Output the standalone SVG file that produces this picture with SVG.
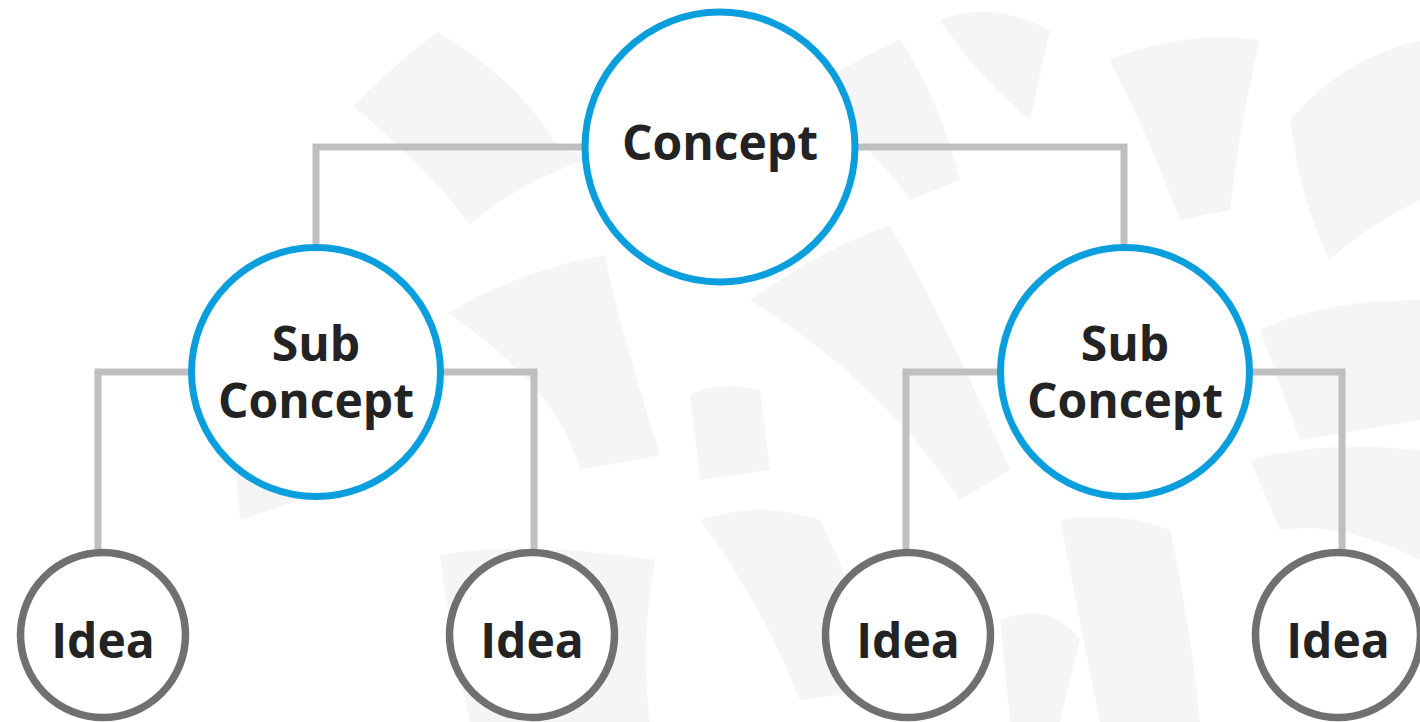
<svg xmlns="http://www.w3.org/2000/svg" width="1420" height="722" viewBox="0 0 1420 722">
<style>
.bg{fill:#f5f5f5;stroke:none}
.conn{fill:none;stroke:#bfbfbf;stroke-width:7;stroke-linejoin:miter}
.major{fill:#ffffff;stroke:#0a9fdc;stroke-width:7}
.idea{fill:#ffffff;stroke:#707070;stroke-width:7.5}
.lbl{font-family:"Open Sans","Noto Sans","Liberation Sans",sans-serif;font-weight:700;font-size:48px;fill:#232323;text-anchor:middle}
</style>
<rect width="1420" height="722" fill="#ffffff"/>
<g id="background">
<path class="bg" d="M353,106 Q400,60 437,32 Q520,80 560,150 L600,155 Q520,180 470,225 Q430,170 353,106 Z"/>
<path class="bg" d="M448,313 Q520,270 605,255 Q620,330 660,455 L580,470 Q560,390 448,313 Z"/>
<path class="bg" d="M235,460 Q250,420 300,500 L240,520 Z"/>
<path class="bg" d="M440,555 Q520,540 655,560 Q640,640 650,722 L470,722 Q450,640 440,555 Z"/>
<path class="bg" d="M690,395 Q720,380 760,390 L770,470 L700,480 Z"/>
<path class="bg" d="M750,300 Q820,250 890,225 Q950,330 1010,470 L960,500 Q880,380 750,300 Z"/>
<path class="bg" d="M800,100 Q850,60 900,40 Q940,100 960,180 L910,200 Q870,140 800,100 Z"/>
<path class="bg" d="M940,20 Q990,0 1050,30 L1030,120 Q980,80 940,20 Z"/>
<path class="bg" d="M1110,60 Q1180,30 1260,40 Q1240,120 1230,210 L1180,220 Q1150,140 1110,60 Z"/>
<path class="bg" d="M1290,120 Q1340,60 1420,40 L1420,200 Q1360,230 1330,260 Q1300,200 1290,120 Z"/>
<path class="bg" d="M1260,330 Q1320,300 1420,300 L1420,420 L1300,440 Z"/>
<path class="bg" d="M700,520 Q760,500 820,520 Q860,600 880,690 L800,700 Q760,600 700,520 Z"/>
<path class="bg" d="M1060,520 Q1120,510 1170,530 Q1190,620 1200,722 L1100,722 Q1080,620 1060,520 Z"/>
<path class="bg" d="M1000,620 Q1050,600 1080,640 L1060,722 L1010,722 Z"/>
<path class="bg" d="M1250,460 Q1320,440 1420,450 L1420,560 Q1340,520 1280,530 Z"/>
</g>
<g id="connectors">
<path class="conn" d="M583,147 H316 V244"/>
<path class="conn" d="M857,147 H1124 V244"/>
<path class="conn" d="M189,372 H98 V549"/>
<path class="conn" d="M444,372 H534 V549"/>
<path class="conn" d="M998,372 H906 V549"/>
<path class="conn" d="M1252,372 H1342 V549"/>
</g>
<g id="concept">
<circle class="major" cx="720" cy="147" r="135"/>
<text class="lbl" x="720" y="160">Concept</text>
</g>
<g id="sub-concept-left">
<circle class="major" cx="316" cy="372" r="124.5"/>
<text class="lbl" x="316" y="361">Sub<tspan x="316" dy="57">Concept</tspan></text>
</g>
<g id="sub-concept-right">
<circle class="major" cx="1125" cy="372" r="124.5"/>
<text class="lbl" x="1125" y="361">Sub<tspan x="1125" dy="57">Concept</tspan></text>
</g>
<g id="idea-1">
<circle class="idea" cx="103" cy="635" r="82.5"/>
<text class="lbl" x="103" y="658">Idea</text>
</g>
<g id="idea-2">
<circle class="idea" cx="532" cy="635" r="82.5"/>
<text class="lbl" x="532" y="658">Idea</text>
</g>
<g id="idea-3">
<circle class="idea" cx="908" cy="635" r="82.5"/>
<text class="lbl" x="908" y="658">Idea</text>
</g>
<g id="idea-4">
<circle class="idea" cx="1338" cy="635" r="82.5"/>
<text class="lbl" x="1338" y="658">Idea</text>
</g>
</svg>
